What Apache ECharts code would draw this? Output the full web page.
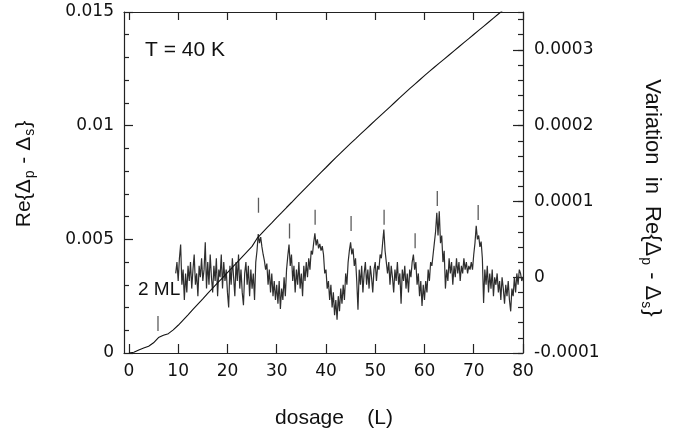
<!DOCTYPE html>
<html><head><meta charset="utf-8">
<script src="https://cdn.jsdelivr.net/npm/echarts@6/dist/echarts.min.js"></script>
<style>html,body{margin:0;padding:0;background:#fff}#c{width:677px;height:433px}</style>
</head><body><div id="c"></div>
<script>
// ---- data ----
const xTickValues = [0, 10, 20, 30, 40, 50, 60, 70, 80];
const coverageDosage = [0,1,2,3,4,5,6,7,8,9,10,11,12,13,14,15,16,17,18,19,20,21,22,23,24,25,26,27,28,29,30,31,32,33,34,35,36,37,38,39,40,41,42,43,44,45,46,47,48,49,50,51,52,53,54,55,56,57,58,59,60,61,62,63,64,65,66,67,68,69,70,71,72,73,74,75,76];
const coverageSignal = [0,0.00003,0.00013,0.00022,0.0003,0.00045,0.00068,0.00078,0.00085,0.00102,0.00122,0.00145,0.00168,0.00192,0.00215,0.00238,0.00262,0.00285,0.00308,0.00331,0.00354,0.00377,0.004,0.00423,0.00446,0.00469,0.00504,0.00527,0.0055,0.00572,0.00595,0.00617,0.0064,0.00662,0.00685,0.00707,0.00729,0.00751,0.00773,0.00795,0.00816,0.00838,0.00859,0.0088,0.00901,0.00922,0.00942,0.00963,0.00983,0.01003,0.01023,0.01043,0.01063,0.01083,0.01103,0.01123,0.01143,0.01163,0.01182,0.01201,0.0122,0.01239,0.01257,0.01275,0.01293,0.01311,0.01329,0.01347,0.01365,0.01383,0.01401,0.01419,0.01437,0.01455,0.01473,0.01491,0.01509];
// variation sampled every 0.25 L from 9.5 L, in units of 1e-4
const variationStart = 9.5;
const variationStep = 0.25;
const variationE4 = [
 0.05,0.2,-0.05,0.25,0.43,-0.1,0.1,-0.3,0.05,-0.2,0.15,-0.05,0.2,-0.15,0.1,0.3,-0.1,0.05,-0.25,0.15,0.0,0.25,
 -0.05,0.1,0.46,-0.15,0.2,-0.1,0.3,0.0,-0.2,0.15,-0.05,0.25,-0.25,0.1,0.0,0.3,-0.15,0.2,-0.05,0.1,
 -0.2,-0.4,0.15,-0.1,0.25,0.0,-0.25,0.2,-0.05,0.3,-0.15,0.1,-0.2,-0.37,0.05,0.2,-0.1,0.15,-0.25,0.1,
 -0.15,0.05,-0.3,0.2,0.35,0.57,0.45,0.53,0.4,0.3,0.22,0.1,0.18,-0.1,0.1,-0.2,0.05,-0.25,-0.05,-0.3,
 -0.1,-0.35,-0.05,-0.42,-0.15,-0.3,0.0,-0.25,0.1,0.28,0.43,0.15,0.3,-0.05,0.15,-0.2,0.1,-0.1,0.2,-0.15,
 0.05,-0.25,0.15,-0.05,0.2,0.0,0.25,0.1,0.35,0.3,0.45,0.58,0.42,0.5,0.38,0.44,0.35,0.41,0.3,0.05,
 0.1,-0.15,-0.05,-0.3,-0.1,-0.4,-0.2,-0.5,-0.3,-0.56,-0.25,-0.45,-0.15,-0.35,-0.1,-0.3,0.05,-0.1,0.2,0.35,
 0.46,0.3,0.38,0.15,0.25,-0.05,-0.43,0.1,-0.1,0.15,-0.2,0.05,0.2,-0.1,0.1,-0.15,0.15,0.0,-0.2,0.1,
 0.2,-0.05,0.15,0.1,0.3,0.25,0.45,0.63,0.35,0.2,0.05,0.2,-0.1,0.15,0.0,-0.2,0.1,-0.05,0.2,-0.1,
 0.05,-0.35,0.1,-0.05,0.15,-0.15,0.05,-0.2,0.1,0.0,0.2,0.3,0.1,0.2,-0.1,0.05,-0.25,-0.05,-0.38,-0.1,
 -0.3,-0.05,-0.2,0.1,-0.05,0.2,0.15,0.3,0.45,0.6,0.85,0.55,0.87,0.45,0.55,0.2,0.35,-0.15,0.1,-0.05,
 0.25,0.05,0.2,-0.1,0.15,0.0,0.25,0.05,0.2,-0.05,0.15,0.05,0.25,0.1,0.2,0.05,0.15,0.1,0.2,0.1,
 0.3,0.45,0.68,0.5,0.55,0.4,0.47,0.25,-0.34,0.1,-0.1,0.15,-0.2,0.05,-0.15,0.1,-0.25,0.0,-0.1,0.05,
 -0.2,-0.05,-0.3,0.0,-0.15,-0.35,-0.1,-0.25,-0.05,-0.3,-0.45,-0.15,-0.25,0.0,-0.2,0.05,-0.1,0.1,0.05,-0.05,0.0
];
const markerDosage = [5.9, 26.3, 32.6, 37.8, 45.1, 51.8, 58.1, 62.6, 70.9];
const markerLevelE4 = [-0.61, 0.95, 0.61, 0.79, 0.71, 0.79, 0.48, 1.04, 0.855];

// ---- chart ----
const TXT = '#111';
const tickFont = 'DejaVu Sans';
const titleFont = 'Liberation Sans';
const chart = echarts.init(document.getElementById('c'), null, {renderer: 'canvas'});
const coverageData = coverageDosage.map((d, i) => [d, coverageSignal[i]]);
const variationData = variationE4.map((v, i) => [variationStart + i * variationStep, v]);
const markerData = markerDosage.map((d, i) => [d, markerLevelE4[i]]);
const axisLine = {show: true, onZero: false, lineStyle: {color: '#222', width: 1.2}};
const subRich = {s: {fontSize: 14, fontFamily: titleFont, fill: TXT, padding: [12, 1, 0, 1]}};

chart.setOption({
  animation: false,
  backgroundColor: '#fff',
  grid: {left: 124, right: 154, top: 12, bottom: 80},
  xAxis: [
    {type: 'value', position: 'bottom', min: -1, max: 80,
     axisLine, splitLine: {show: false},
     axisTick: {show: true, inside: true, length: 9, customValues: xTickValues, lineStyle: {color: '#222', width: 1.2}},
     axisLabel: {show: true, customValues: xTickValues, margin: 10, color: TXT, fontFamily: tickFont, fontSize: 17}},
    {type: 'value', position: 'top', min: -1, max: 80,
     axisLine, splitLine: {show: false},
     axisTick: {show: true, inside: true, length: 8, customValues: xTickValues, lineStyle: {color: '#222', width: 1.2}},
     axisLabel: {show: false}}
  ],
  yAxis: [
    {type: 'value', position: 'left', min: 0, max: 0.015, interval: 0.005,
     axisLine, splitLine: {show: false},
     axisTick: {show: true, inside: true, length: 9, lineStyle: {color: '#222', width: 1.2}},
     minorTick: {show: true, splitNumber: 5, length: 5, lineStyle: {color: '#222', width: 1.2}},
     axisLabel: {color: TXT, fontFamily: tickFont, fontSize: 17, margin: 10}},
    {type: 'value', position: 'right', min: -1, max: 3.5, interval: 1,
     axisLine, splitLine: {show: false},
     axisTick: {show: true, inside: true, length: 10, lineStyle: {color: '#222', width: 1.2}},
     axisLabel: {color: TXT, fontFamily: tickFont, fontSize: 17, margin: 11, showMaxLabel: false,
       formatter: v => v === 0 ? '0' : (v * 1e-4).toFixed(4)}},
    {type: 'value', position: 'right', min: -1, max: 3.5, interval: 0.2,
     axisLine: {show: false, onZero: false}, splitLine: {show: false},
     axisTick: {show: true, inside: true, length: 5, lineStyle: {color: '#222', width: 1.2}},
     axisLabel: {show: false}}
  ],
  series: [
    {type: 'line', xAxisIndex: 0, yAxisIndex: 0, data: coverageData, showSymbol: false,
     lineStyle: {color: '#111', width: 1.1}, z: 3},
    {type: 'line', xAxisIndex: 0, yAxisIndex: 1, data: variationData, showSymbol: false,
     lineStyle: {color: '#2e2e2e', width: 1.2}, z: 2},
    {type: 'scatter', xAxisIndex: 0, yAxisIndex: 1, data: markerData, symbol: 'rect',
     symbolSize: [1.3, 15], itemStyle: {color: '#333'}, z: 4}
  ],
  graphic: [
    {type: 'text', x: 145, y: 50, style: {text: 'T = 40 K', font: '21px "Liberation Sans"', fill: TXT,
      align: 'left', verticalAlign: 'middle', textAlign: 'left', textVerticalAlign: 'middle'}},
    {type: 'text', x: 138, y: 290, style: {text: '2 ML', font: '19px "Liberation Sans"', fill: TXT,
      align: 'left', verticalAlign: 'middle', textAlign: 'left', textVerticalAlign: 'middle'}},
    {type: 'text', x: 334, y: 418, style: {text: 'dosage    (L)', font: '21px "Liberation Sans"', fill: TXT,
      align: 'center', verticalAlign: 'middle', textAlign: 'center', textVerticalAlign: 'middle'}},
    {type: 'text', x: 24, y: 174, rotation: Math.PI / 2,
     style: {text: 'Re{Δ{s|p} - Δ{s|s}}', font: '21px "Liberation Sans"', fill: TXT,
      align: 'center', verticalAlign: 'middle', textAlign: 'center', textVerticalAlign: 'middle', rich: subRich}},
    {type: 'text', x: 652, y: 198, rotation: -Math.PI / 2,
     style: {text: 'Variation  in  Re{Δ{s|p} - Δ{s|s}}', font: '22px "Liberation Sans"', fill: TXT,
      align: 'center', verticalAlign: 'middle', textAlign: 'center', textVerticalAlign: 'middle', rich: subRich}}
  ]
});
</script>
</body></html>
